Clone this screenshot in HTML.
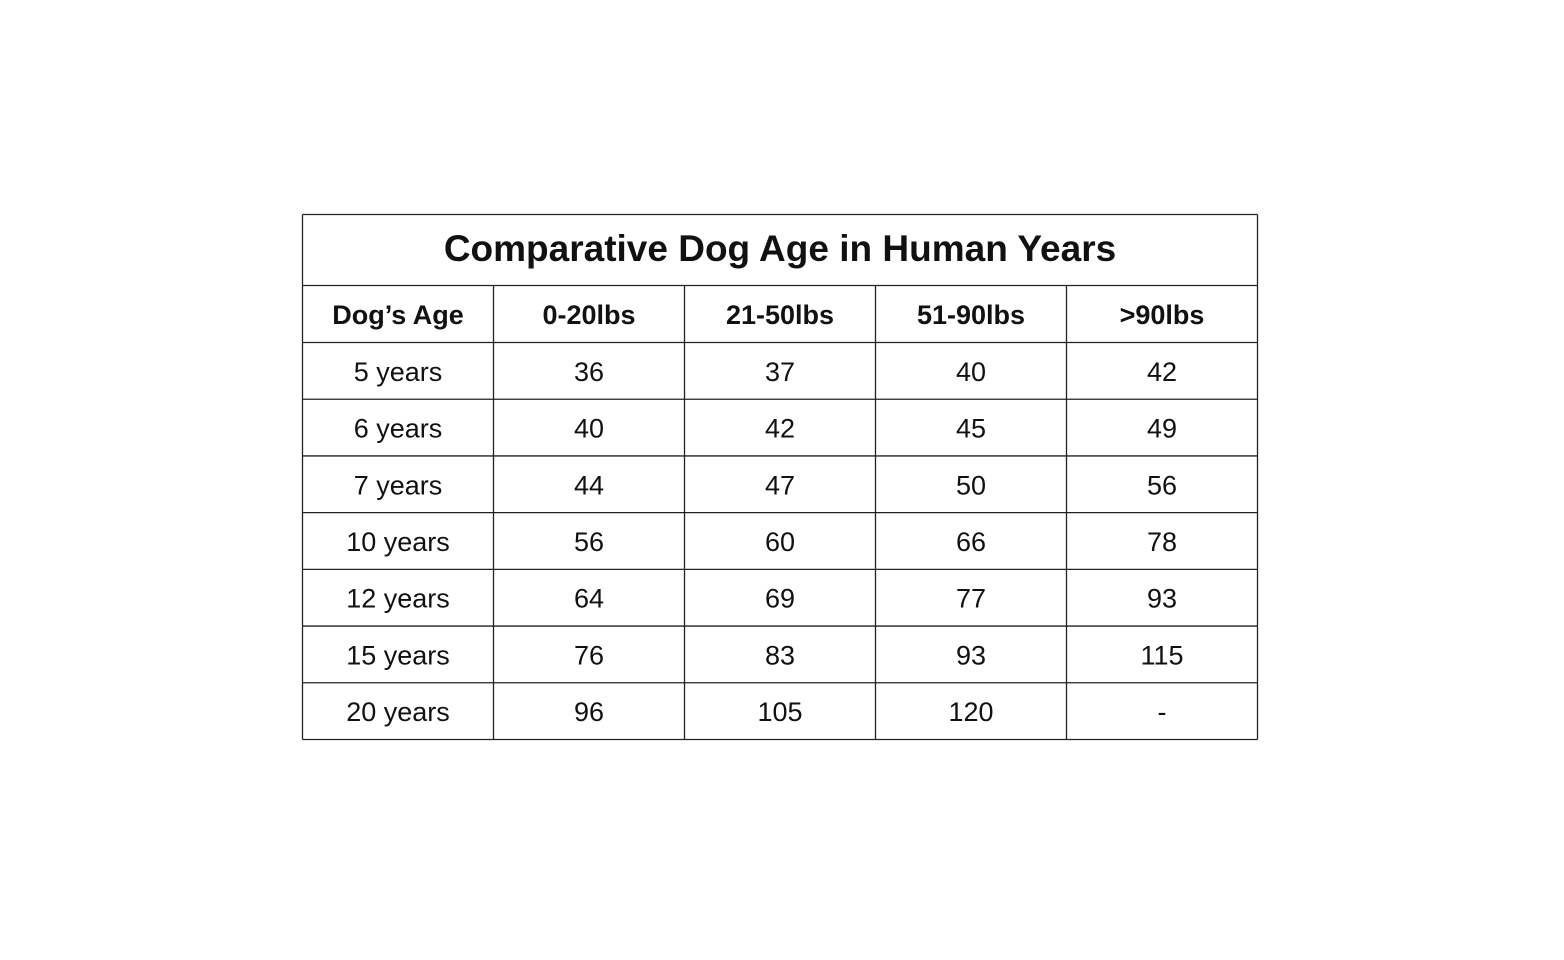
<!DOCTYPE html>
<html><head><meta charset="utf-8"><style>
html,body{margin:0;padding:0;background:#fff;width:1564px;height:960px;overflow:hidden}
svg{display:block}
text{font-family:"Liberation Sans",Arial,sans-serif;fill:#111}
</style></head><body>
<svg id="chart" width="1564" height="960" xmlns="http://www.w3.org/2000/svg">
<rect x="0" y="0" width="1564" height="960" fill="#fff"/>
<text x="780" y="261" text-anchor="middle" font-size="37" font-weight="bold">Comparative Dog Age in Human Years</text>
<g id="grid"></g><g id="cells"></g>
</svg>
<script>
const headers = ["Dog\u2019s Age","0-20lbs","21-50lbs","51-90lbs",">90lbs"];
const ages = ["5 years","6 years","7 years","10 years","12 years","15 years","20 years"];
const small = ["36","40","44","56","64","76","96"];
const medium = ["37","42","47","60","69","83","105"];
const large = ["40","45","50","66","77","93","120"];
const giant = ["42","49","56","78","93","115","-"];

const NS="http://www.w3.org/2000/svg";
const L=302.5,R=1257.5,T=214.5,TH=285.5,HB=342.5,B=739.5;
const nc=headers.length, cw=(R-L)/nc, rh=(B-HB)/ages.length;
const grid=document.getElementById('grid'), cells=document.getElementById('cells');
function line(x1,y1,x2,y2,name){
  const l=document.createElementNS(NS,'line');
  l.setAttribute('x1',x1);l.setAttribute('y1',y1);l.setAttribute('x2',x2);l.setAttribute('y2',y2);
  l.setAttribute('stroke','#222');l.setAttribute('stroke-width','1.3');
  
  
  grid.appendChild(l);
}
line(L,T,R,T,'table-border-top');line(L,B,R,B,'table-border-bottom');
line(L,T,L,B,'table-border-left');line(R,T,R,B,'table-border-right');
line(L,TH,R,TH,'title-divider');line(L,HB,R,HB,'header-divider');
for(let i=1;i<ages.length;i++) line(L,HB+i*rh,R,HB+i*rh,'row-divider');
for(let j=1;j<nc;j++) line(L+j*cw,TH,L+j*cw,B,'column-divider');
function txt(s,x,y,bold,name){
  const t=document.createElementNS(NS,'text');
  t.setAttribute('x',x);t.setAttribute('y',y);t.setAttribute('text-anchor','middle');
  t.setAttribute('font-size','27');
  if(bold)t.setAttribute('font-weight','bold');
  t.textContent=s;
  
  
  cells.appendChild(t);
}
headers.forEach((h,j)=>txt(h,L+(j+0.5)*cw,(TH+HB)/2+10,true,'column-header'));
const cols=[ages,small,medium,large,giant];
ages.forEach((a,i)=>{
  cols.forEach((c,j)=>txt(c[i],L+(j+0.5)*cw,HB+(i+0.5)*rh+10,false,j===0?'age-label':'table-cell'));
});
</script>
</body></html>
